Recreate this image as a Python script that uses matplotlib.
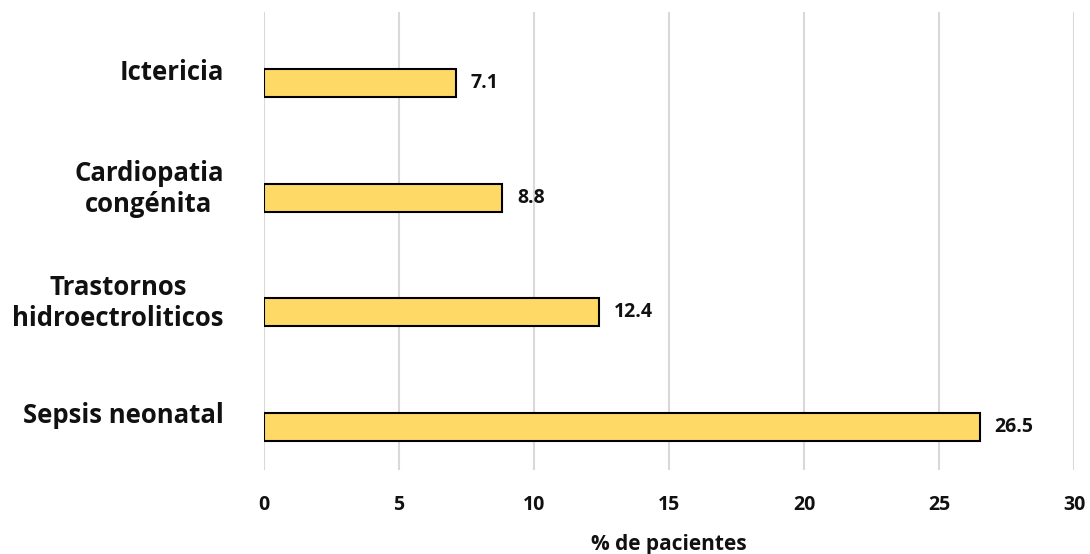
import numpy as np
import matplotlib
matplotlib.use("Agg")
import matplotlib.pyplot as plt

plt.rcParams["font.family"] = ["Open Sans", "DejaVu Sans"]
plt.rcParams["font.weight"] = "bold"

categories = ["Ictericia", "Cardiopatia\ncongénita", "Trastornos\nhidroectroliticos", "Sepsis neonatal"]
values = [7.1, 8.8, 12.4, 26.5]
x_ticks = [0, 5, 10, 15, 20, 25, 30]

BAR_COLOR = "#FFD966"
GRID_COLOR = "#D9D9D9"
TEXT_COLOR = "#111111"
BAR_H = 0.245

fig = plt.figure(figsize=(10.9, 5.54), dpi=100)
ax = fig.add_axes([264 / 1090, 1 - 470 / 554, (1074 - 264) / 1090, (470 - 12) / 554])

pos = np.arange(len(categories))
# bars sit just below the category band centre
ax.barh(pos + BAR_H / 2, values, height=BAR_H, color=BAR_COLOR,
        edgecolor="black", linewidth=1.5, zorder=3)

for p, v in zip(pos, values):
    ax.annotate(f"{v:.1f}", (v, p + BAR_H / 2), xytext=(11, 0), textcoords="offset points",
                ha="left", va="center", fontsize=14, fontweight="bold", color=TEXT_COLOR)

ax.set_xlim(0, 30)
ax.set_ylim(len(categories) - 0.5, -0.5)
ax.set_xticks(x_ticks)
ax.set_xticklabels([str(t) for t in x_ticks], fontsize=14, fontweight="bold")
ax.set_yticks(pos)
ax.set_yticklabels(categories, fontsize=18.5, fontweight="bold", multialignment="center")
ax.tick_params(axis="both", length=0, colors=TEXT_COLOR)
ax.tick_params(axis="x", pad=18)
ax.tick_params(axis="y", pad=29)

ax.grid(axis="x", color=GRID_COLOR, linewidth=1.5, zorder=0)
ax.set_axisbelow(True)
for s in ax.spines.values():
    s.set_visible(False)

ax.set_xlabel("% de pacientes", fontsize=15, fontweight="bold", color=TEXT_COLOR, labelpad=14)

fig.savefig("out.png", dpi=100)
